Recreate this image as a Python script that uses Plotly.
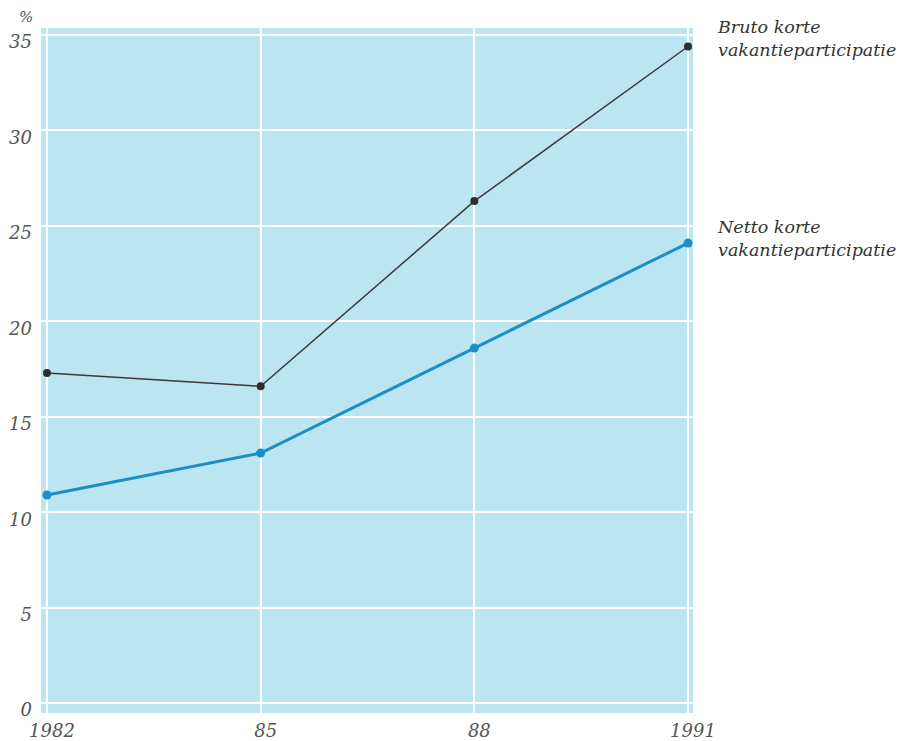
import plotly.graph_objects as go

years = [1982, 1985, 1988, 1991]
bruto = [17.3, 16.6, 26.3, 34.4]
netto = [10.9, 13.1, 18.6, 24.1]
x_tickvals = [1982, 1985, 1988, 1991]
x_ticktext = ["1982", "85", "88", "1991"]
y_tickvals = [0, 5, 10, 15, 20, 25, 30, 35]
bruto_label = "Bruto korte<br>vakantieparticipatie"
netto_label = "Netto korte<br>vakantieparticipatie"

font_family = "DejaVu Serif, Liberation Serif, serif"

fig = go.Figure()
fig.add_trace(go.Scatter(
    x=years, y=bruto, mode="lines+markers",
    line=dict(color="#3a3a3a", width=1.5),
    marker=dict(color="#2e2e2e", size=8),
    showlegend=False, hoverinfo="skip"))
fig.add_trace(go.Scatter(
    x=years, y=netto, mode="lines+markers",
    line=dict(color="#1a8fc6", width=3),
    marker=dict(color="#1a8fc6", size=9),
    showlegend=False, hoverinfo="skip"))

fig.update_layout(
    width=902, height=741,
    margin=dict(l=41, r=209, t=28, b=28, autoexpand=False),
    paper_bgcolor="white",
    plot_bgcolor="#bae5f1",
    font=dict(family=font_family, color="#555555", size=19, style="italic"),
    xaxis=dict(
        range=[1981.916, 1991.07],
        tickvals=x_tickvals, ticktext=x_ticktext,
        showgrid=True, gridcolor="white", gridwidth=1.5,
        zeroline=False, showline=False, ticks="", automargin=False,
        ticklabelshift=5, ticklabelstandoff=5,
        tickfont=dict(family=font_family, size=18, color="#555555", style="italic"),
    ),
    yaxis=dict(
        range=[-0.52, 35.37],
        tickvals=y_tickvals,
        showgrid=True, gridcolor="white", gridwidth=1.5,
        zeroline=False, showline=False, ticks="", automargin=False,
        ticklabelshift=7, ticklabelstandoff=8,
        tickfont=dict(family=font_family, size=18, color="#555555", style="italic"),
    ),
)

fig.add_annotation(
    text="%", xref="paper", yref="paper", x=-0.023, y=1.0,
    xanchor="center", yanchor="bottom", showarrow=False, yshift=0,
    font=dict(family=font_family, size=15, color="#555555", style="italic"))

for txt, yy, ys in [(bruto_label, bruto[-1], 8), (netto_label, netto[-1], 5)]:
    fig.add_annotation(
        text=txt, xref="paper", yref="y", x=1.0, y=yy,
        xanchor="left", yanchor="middle", align="left", showarrow=False,
        xshift=22, yshift=ys,
        font=dict(family=font_family, size=17.5, color="#333333", style="italic"))

fig.write_html(
    "out.html",
    config={"displayModeBar": False},
    post_script="document.body.style.margin='0';document.body.style.overflow='hidden';")
